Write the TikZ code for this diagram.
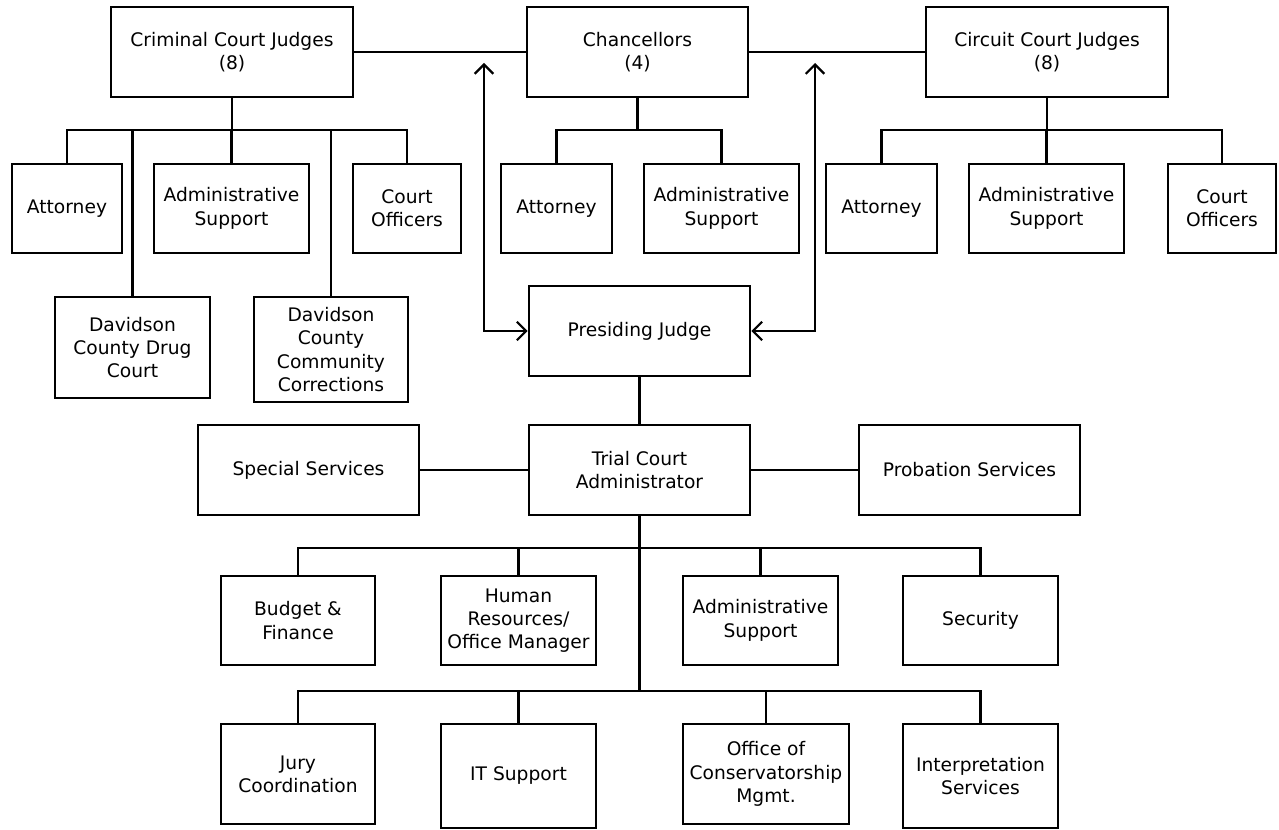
\documentclass[tikz,border=0pt]{standalone}
\usepackage{fontspec}
\setmainfont{DejaVu Sans}
\usetikzlibrary{arrows.meta}
\begin{document}
\begin{tikzpicture}[x=0.75pt,y=-0.75pt,
  box/.style={draw,line width=1.9pt,align=center,inner sep=0pt,
    font=\fontsize{14}{17.5}\selectfont},
  link/.style={line width=1.6pt},
  biarrow/.style={link,{Straight Barb[length=7pt,width=14pt]}-{Straight Barb[length=7pt,width=14pt]}}]
\useasboundingbox (0,0) rectangle (1279,830);
% top row
\node[box,minimum width=242*0.75pt,minimum height=90*0.75pt] (crim) at (232,52) {Criminal Court Judges\\(8)};
\node[box,minimum width=221*0.75pt,minimum height=90*0.75pt] (chan) at (637.5,52) {Chancellors\\(4)};
\node[box,minimum width=242*0.75pt,minimum height=90*0.75pt] (circ) at (1047,52) {Circuit Court Judges\\(8)};
% second row
\node[box,minimum width=110*0.75pt,minimum height=89*0.75pt] (crAtt) at (67,208.5) {Attorney};
\node[box,minimum width=155*0.75pt,minimum height=89*0.75pt] (crAdm) at (231.5,208.5) {Administrative\\Support};
\node[box,minimum width=108*0.75pt,minimum height=89*0.75pt] (crOff) at (407,208.5) {Court\\Officers};
\node[box,minimum width=111*0.75pt,minimum height=89*0.75pt] (chAtt) at (556.5,208.5) {Attorney};
\node[box,minimum width=155*0.75pt,minimum height=89*0.75pt] (chAdm) at (721.5,208.5) {Administrative\\Support};
\node[box,minimum width=111*0.75pt,minimum height=89*0.75pt] (ciAtt) at (881.5,208.5) {Attorney};
\node[box,minimum width=155*0.75pt,minimum height=89*0.75pt] (ciAdm) at (1046.5,208.5) {Administrative\\Support};
\node[box,minimum width=108*0.75pt,minimum height=89*0.75pt] (ciOff) at (1222,208.5) {Court\\Officers};
% third row (criminal)
\node[box,minimum width=155*0.75pt,minimum height=101*0.75pt] (drug) at (132.5,347.5) {Davidson\\County Drug\\Court};
\node[box,minimum width=154*0.75pt,minimum height=105*0.75pt] (corr) at (331,349.5) {Davidson\\County\\Community\\Corrections};
% middle
\node[box,minimum width=221*0.75pt,minimum height=90*0.75pt] (pj) at (639.5,331) {Presiding Judge};
\node[box,minimum width=221*0.75pt,minimum height=90*0.75pt] (tca) at (639.5,470) {Trial Court\\Administrator};
\node[box,minimum width=221*0.75pt,minimum height=90*0.75pt] (spec) at (308.5,470) {Special Services};
\node[box,minimum width=221*0.75pt,minimum height=90*0.75pt] (prob) at (969.5,470) {Probation Services};
% fourth row
\node[box,minimum width=154*0.75pt,minimum height=89*0.75pt] (budg) at (298,620.5) {Budget \&\\Finance};
\node[box,minimum width=155*0.75pt,minimum height=89*0.75pt] (hr) at (518.5,620.5) {Human\\Resources/\\Office Manager};
\node[box,minimum width=155*0.75pt,minimum height=89*0.75pt] (adm) at (760.5,620.5) {Administrative\\Support};
\node[box,minimum width=155*0.75pt,minimum height=89*0.75pt] (sec) at (980.5,620.5) {Security};
% fifth row
\node[box,minimum width=154*0.75pt,minimum height=100*0.75pt] (jury) at (298,774) {Jury\\Coordination};
\node[box,minimum width=155*0.75pt,minimum height=104*0.75pt] (it) at (518.5,776) {IT Support};
\node[box,minimum width=166*0.75pt,minimum height=100*0.75pt] (off) at (766,774) {Office of\\Conservatorship\\Mgmt.};
\node[box,minimum width=155*0.75pt,minimum height=104*0.75pt] (interp) at (980.5,776) {Interpretation\\Services};
% junction coordinates
\coordinate (crB) at (232,130);
\coordinate (chB) at (637.5,130);
\coordinate (ciB) at (1047,130);
\coordinate (b1) at (639.5,548);
\coordinate (b2) at (639.5,691);
\coordinate (lTop) at (484,63);
\coordinate (rTop) at (815,63);
% connectors top
\draw[link] (crim.east) -- (chan.west);
\draw[link] (chan.east) -- (circ.west);
\draw[link] (crim.south) -- (crB);
\draw[link] (crAtt.north) |- (crB);
\draw[link] (crAdm.north) -- (crAdm.north |- crB);
\draw[link] (crOff.north) |- (crB);
\draw[link] (drug.north) -- (drug.north |- crB);
\draw[link] (corr.north) -- (corr.north |- crB);
\draw[link] (chan.south) -- (chB);
\draw[link] (chAtt.north) |- (chB);
\draw[link] (chAdm.north) |- (chB);
\draw[link] (circ.south) -- (ciB);
\draw[link] (ciAtt.north) |- (ciB);
\draw[link] (ciAdm.north) -- (ciAdm.north |- ciB);
\draw[link] (ciOff.north) |- (ciB);
% arrows
\draw[biarrow] (lTop) |- (pj.west);
\draw[biarrow] (rTop) |- (pj.east);
% middle
\draw[link] (pj.south) -- (tca.north);
\draw[link] (spec.east) -- (tca.west);
\draw[link] (tca.east) -- (prob.west);
% bottom tree
\draw[link] (tca.south) -- (b2);
\draw[link] (budg.north) |- (b1);
\draw[link] (hr.north) |- (b1);
\draw[link] (adm.north) |- (b1);
\draw[link] (sec.north) |- (b1);
\draw[link] (jury.north) |- (b2);
\draw[link] (it.north) |- (b2);
\draw[link] (off.north) |- (b2);
\draw[link] (interp.north) |- (b2);
\end{tikzpicture}
\end{document}
